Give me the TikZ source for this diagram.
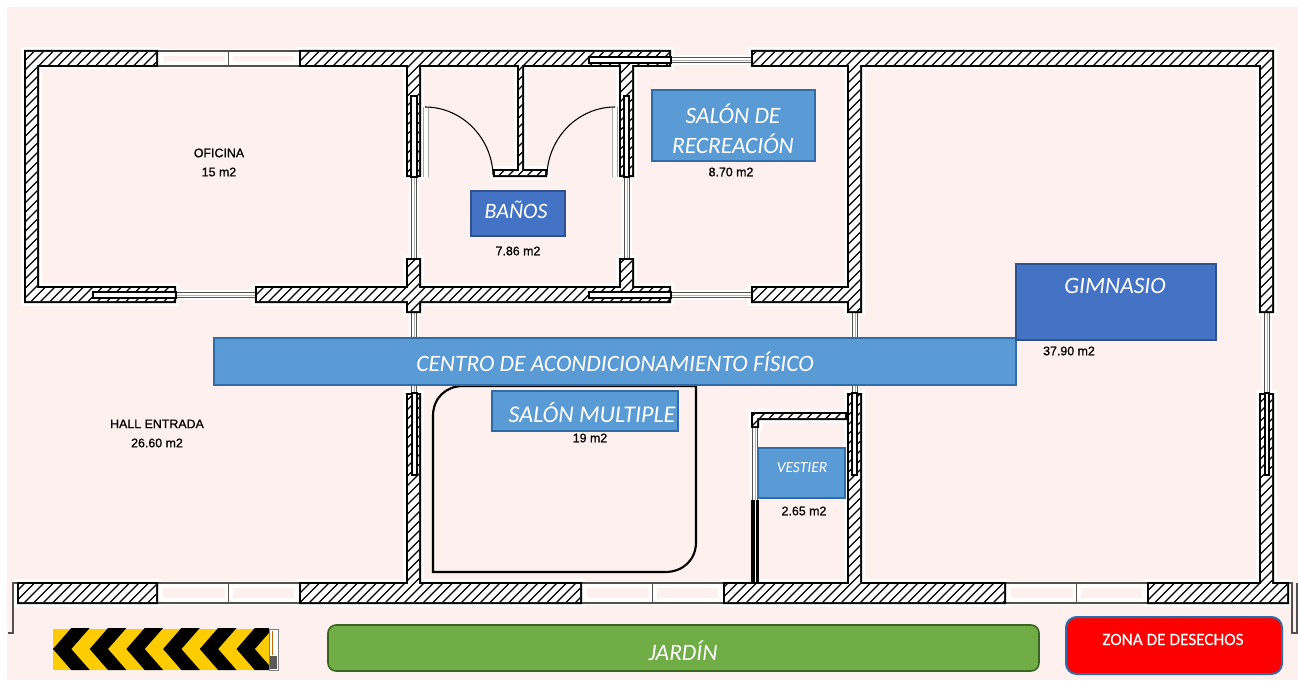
\documentclass[tikz,border=0pt]{standalone}
\usepackage{fontspec}
\setmainfont{Liberation Sans}
\newfontfamily\carl{Carlito}
\newfontfamily\labfont[FakeBold=0.8]{Liberation Sans}
\newfontfamily\zonafont[FakeBold=0.3]{Carlito}
\definecolor{bgpink}{HTML}{FDF0EE}
\definecolor{lblue}{HTML}{5B9BD5}
\definecolor{lblueb}{HTML}{2F6CA8}
\definecolor{dblue}{HTML}{4472C4}
\definecolor{dblueb}{HTML}{2F528F}
\definecolor{jgreen}{HTML}{70AD47}
\definecolor{jgreenb}{HTML}{38661E}
\definecolor{chevy}{HTML}{FFCC00}
\definecolor{winline}{HTML}{555050}
\newcommand\wi{0}
\newcommand\wallbox[4]{({#1+\wi},{#2+\wi}) rectangle ({#3-\wi},{#4-\wi})}
\newcommand\wallpath{
 \wallbox{24}{50}{158}{67} \wallbox{299}{50}{671}{67} \wallbox{751}{50}{1274}{67}
 \wallbox{24}{50}{39}{303}
 \wallbox{24}{286}{176}{303} \wallbox{255}{286}{671}{303} \wallbox{751}{286}{862}{303}
 \wallbox{406}{50}{421}{177} \wallbox{406}{258}{421}{313} \wallbox{406}{393}{421}{604}
 \wallbox{517}{50}{524}{177} \wallbox{493}{169}{547}{177}
 \wallbox{619}{50}{634}{177} \wallbox{619}{258}{634}{303}
 \wallbox{847}{50}{862}{313} \wallbox{847}{393}{862}{604}
 \wallbox{1259}{50}{1274}{313} \wallbox{1259}{393}{1274}{604}
 \wallbox{17}{582}{158}{604} \wallbox{299}{582}{582}{604} \wallbox{723}{582}{1006}{604} \wallbox{1147}{582}{1289}{604}
 \wallbox{751}{412}{847}{420} \wallbox{751}{412}{759}{428}
}
\tikzset{
 roomtag/.style={font=\labfont\fontsize{9.3}{14.3}\selectfont, text=black, align=center, inner sep=0pt},
 bluetag/.style={draw=lblueb, line width=1pt, fill=lblue},
 darktag/.style={draw=dblueb, line width=1pt, fill=dblue},
 tagtext/.style={font=\carl\itshape\fontsize{17.6}{22.5}\selectfont, text=white, align=center, inner sep=0pt},
 slotbox/.style={draw=black, line width=1.1pt, fill=white},
 winpane/.style={draw=winline, line width=.6pt},
 leaf/.style={draw=gray!70, line width=.6pt},
 halo/.style={draw=white, line width=4pt}
}
\newcommand\widewin[4]{%
 \fill[white] (#1,#3-2) rectangle (#2,#4+2);
 \fill[bgpink] ({#1+5},{#3+5}) rectangle ({(#1+#2)/2-4},{#4-5});
 \fill[bgpink] ({(#1+#2)/2+4},{#3+5}) rectangle ({#2-5},{#4-5});
 \draw[winline,line width=.9pt] (#1,#3) -- (#2,#3) (#1,#4) -- (#2,#4) ({(#1+#2)/2},#3) -- ({(#1+#2)/2},#4);
}
\newcommand\thinv[3]{%
 \fill[white] ({#1-5},#2) rectangle ({#1+5},#3);
 \draw[winpane] ({#1-2.5},#2) -- ({#1-2.5},#3) ({#1+2.5},#2) -- ({#1+2.5},#3);
 \draw[gray!60,line width=.4pt] (#1,#2) -- (#1,#3);
}
\newcommand\thinh[3]{%
 \fill[white] (#2,{#1-5}) rectangle (#3,{#1+5});
 \draw[winpane] (#2,{#1-2.5}) -- (#3,{#1-2.5}) (#2,{#1+2.5}) -- (#3,{#1+2.5});
 \draw[gray!60,line width=.4pt] (#2,#1) -- (#3,#1);
}
\begin{document}
\begin{tikzpicture}[x=0.75pt,y=-0.75pt]
\useasboundingbox (0,0) rectangle (1298,681);
\fill[white] (0,0) rectangle (1298,681);
\fill[bgpink] (7,7) rectangle (1298,680);
% wall halo first, then windows, then walls
\draw[halo] \wallpath;
\widewin{158}{299}{51}{66}
\widewin{158}{299}{583}{603}
\widewin{582}{723}{583}{603}
\widewin{1006}{1147}{583}{603}
\thinh{60}{671}{751}
\thinh{295}{176}{255}
\thinh{295}{671}{751}
\thinv{414}{177}{258}
\thinv{414}{313}{393}
\thinv{627}{177}{258}
\thinv{855}{313}{393}
\thinv{1267}{313}{393}
\fill[black] \wallpath;
\renewcommand\wi{2}
\fill[white] \wallpath;
\begin{scope}
 \clip \wallpath;
 \foreach \k in {0,...,215} { \draw[black,line width=.85pt] ({\k*9.5},0) -- ({\k*9.5-700},700); }
\end{scope}
% sliding door slots
\draw[slotbox] (411,96) rectangle (417,177);
\draw[slotbox] (624,96) rectangle (629,177);
\draw[slotbox] (412,393) rectangle (417,475);
\draw[slotbox] (852,393) rectangle (857,475);
\draw[slotbox] (1265,393) rectangle (1269,475);
\draw[slotbox] (93,292) rectangle (176,298);
\draw[slotbox] (589,292) rectangle (671,298);
\draw[slotbox] (589,57) rectangle (671,63);
% vestier window and thick bar
\thinv{755}{428}{500}
\fill[black] (751,500) rectangle (759,582);
\fill[white] (754.5,500) rectangle (755.5,582);
% doors of the baths
\fill[white] (423,107) rectangle (429,177);
\draw[leaf] (423,107) -- (423,177) (428,107) -- (428,177);
\draw[black,line width=.8pt] (425,107) .. controls (462,107) and (492,138) .. (493,175);
\fill[white] (611,107) rectangle (617,177);
\draw[leaf] (612,107) -- (612,177) (617,107) -- (617,177);
\draw[black,line width=.8pt] (615,107) .. controls (578,107) and (548,138) .. (547,175);
% end hooks
\draw[winline,line width=.9pt] (17,583) -- (13,583) -- (13,633) -- (8,633);
\draw[winline,line width=.9pt] (1289,583) -- (1292,583) -- (1292,633) -- (1297,633) -- (1297,583);
% salon multiple outline
\draw[black,line width=1.6pt] (433,572) -- (433,416) .. controls (433,398) and (446,386) .. (463,386) -- (696,386) -- (696,542) .. controls (696,560) and (683,572) .. (665,572) -- cycle;
% banner and tags
\draw[bluetag] (214,338) rectangle (1016,385);
\node[tagtext] (centro) at (615,361.5) {CENTRO DE ACONDICIONAMIENTO FÍSICO};
\draw[darktag] (1016,264) rectangle (1216,340);
\node[tagtext] (gimnasio) at (1115,286) {GIMNASIO};
\draw[darktag] (471,191) rectangle (565,236);
\node[tagtext,font=\carl\itshape\fontsize{16.5}{20}\selectfont] (banos) at (516,209.5) {BAÑOS};
\draw[bluetag] (652,90) rectangle (815,161);
\node[tagtext] (recreacion) at (733,128.5) {SALÓN DE\\RECREACIÓN};
\draw[bluetag] (492,391) rectangle (678,431);
\node[tagtext,font=\carl\itshape\fontsize{18}{20}\selectfont] (multiple) at (592,412.5) {SALÓN MULTIPLE};
\draw[bluetag] (758,448) rectangle (845,498);
\node[tagtext,font=\carl\itshape\fontsize{11.6}{13}\selectfont] (vestier) at (802,468) {VESTIER};
% room labels
\node[roomtag] (oficina) at (219,162.5) {OFICINA\\15 m2};
\node[roomtag] (hall) at (157,433.5) {HALL ENTRADA\\26.60 m2};
\node[roomtag] (a786) at (518,251) {7.86 m2};
\node[roomtag] (a870) at (731,172) {8.70 m2};
\node[roomtag] (a19) at (590,438) {19 m2};
\node[roomtag] (a265) at (804,511) {2.65 m2};
\node[roomtag] (a3790) at (1069,351) {37.90 m2};
% chevron strip
\fill[chevy] (53,628.5) rectangle (269,670);
\begin{scope}
 \clip (53,628.5) rectangle (269,670);
 \foreach \t in {0,...,5} {
  \fill[black] ({53+\t*36.7},649) -- ({71.3+\t*36.7},628) -- ({89.7+\t*36.7},628) -- ({71.3+\t*36.7},649) -- ({89.7+\t*36.7},670) -- ({71.3+\t*36.7},670) -- cycle;
 }
\end{scope}
\draw[gray,line width=.6pt,fill=white] (269,629) rectangle (278,670);
\draw[orange!80!black,line width=.7pt] (272,631) -- (272,655);
\fill[gray!70!black] (270,656) rectangle (277,669);
% jardin and waste
\draw[draw=jgreenb,line width=1.2pt,fill=jgreen,rounded corners=6pt] (328,625) rectangle (1039,671);
\node[tagtext] (jardin) at (683,651) {JARDÍN};
\draw[draw=lblueb,line width=1.5pt,fill=red,rounded corners=8pt] (1066,617) rectangle (1282,674);
\node[text=white,inner sep=0pt,font=\zonafont\fontsize{12.9}{15}\selectfont] (desechos) at (1173,639.5) {ZONA DE DESECHOS};
\end{tikzpicture}
\end{document}
